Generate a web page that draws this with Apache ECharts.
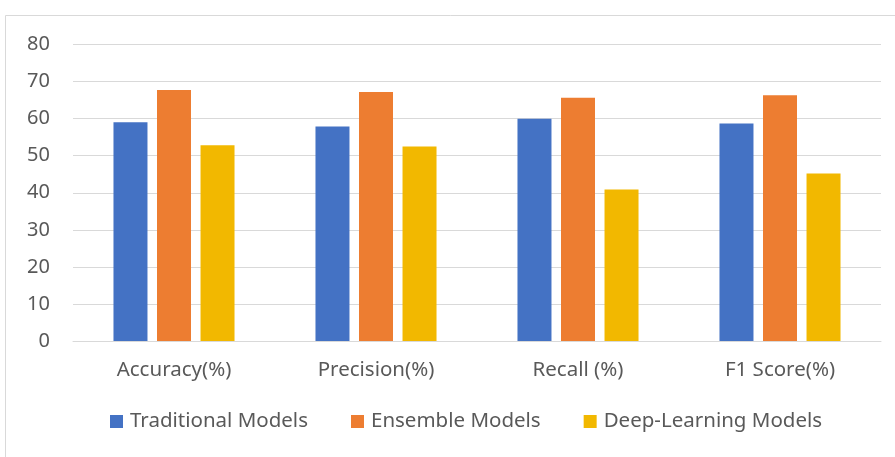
<!DOCTYPE html>
<html>
<head>
<meta charset="utf-8">
<script src="https://cdn.jsdelivr.net/npm/echarts@6/dist/echarts.min.js"></script>
<style>
  html, body { margin: 0; padding: 0; background: #fff; }
  #chart { width: 895px; height: 457px; }
</style>
</head>
<body>
<div id="chart"></div>
<script>
// Metric categories on the x axis
const categories = ['Accuracy(%)', 'Precision(%)', 'Recall (%)', 'F1 Score(%)'];

// Scores per model family
const traditionalModels = [59.0, 57.9, 60.0, 58.7];
const ensembleModels = [67.7, 67.2, 65.6, 66.3];
const deepLearningModels = [52.8, 52.5, 40.9, 45.2];

// Series names shown in the legend
const seriesNames = ['Traditional Models', 'Ensemble Models', 'Deep-Learning Models'];

const textColor = '#595959';
const lineColor = '#d9d9d9';
const fontFamily = '"Noto Sans", "Open Sans", sans-serif';

const chart = echarts.init(document.getElementById('chart'), null, { renderer: 'canvas' });

function barSeries(name, data, color) {
  return {
    name: name,
    type: 'bar',
    data: data,
    barWidth: 34,
    barGap: '28%',
    itemStyle: { color: color },
    emphasis: { disabled: true }
  };
}

chart.setOption({
  animation: false,
  backgroundColor: '#ffffff',
  textStyle: { fontFamily: fontFamily },
  graphic: [{
    type: 'rect',
    shape: { x: 5.5, y: 15.5, width: 900, height: 460 },
    style: { fill: 'none', stroke: lineColor, lineWidth: 1 },
    silent: true,
    z: -1
  }],
  grid: { left: 73, right: 14, top: 44.5, bottom: 116 },
  legend: {
    data: seriesNames,
    left: 105,
    top: 406,
    icon: 'rect',
    itemWidth: 13,
    itemHeight: 13,
    itemGap: 43,
    textStyle: { color: textColor, fontSize: 20.5, fontFamily: fontFamily, padding: [0, 0, 0, 2] }
  },
  xAxis: {
    type: 'category',
    data: categories,
    axisLine: { show: true, lineStyle: { color: lineColor, width: 1 } },
    axisTick: { show: false },
    axisLabel: { color: textColor, fontSize: 20.5, margin: 19, fontFamily: fontFamily }
  },
  yAxis: {
    type: 'value',
    min: 0,
    max: 80,
    interval: 10,
    axisLine: { show: false },
    axisTick: { show: false },
    splitLine: { lineStyle: { color: lineColor, width: 1 } },
    axisLabel: { color: textColor, fontSize: 20, margin: 23, fontFamily: fontFamily }
  },
  series: [
    barSeries(seriesNames[0], traditionalModels, '#4472c4'),
    barSeries(seriesNames[1], ensembleModels, '#ed7d31'),
    barSeries(seriesNames[2], deepLearningModels, '#f2b800')
  ]
});
</script>
</body>
</html>
